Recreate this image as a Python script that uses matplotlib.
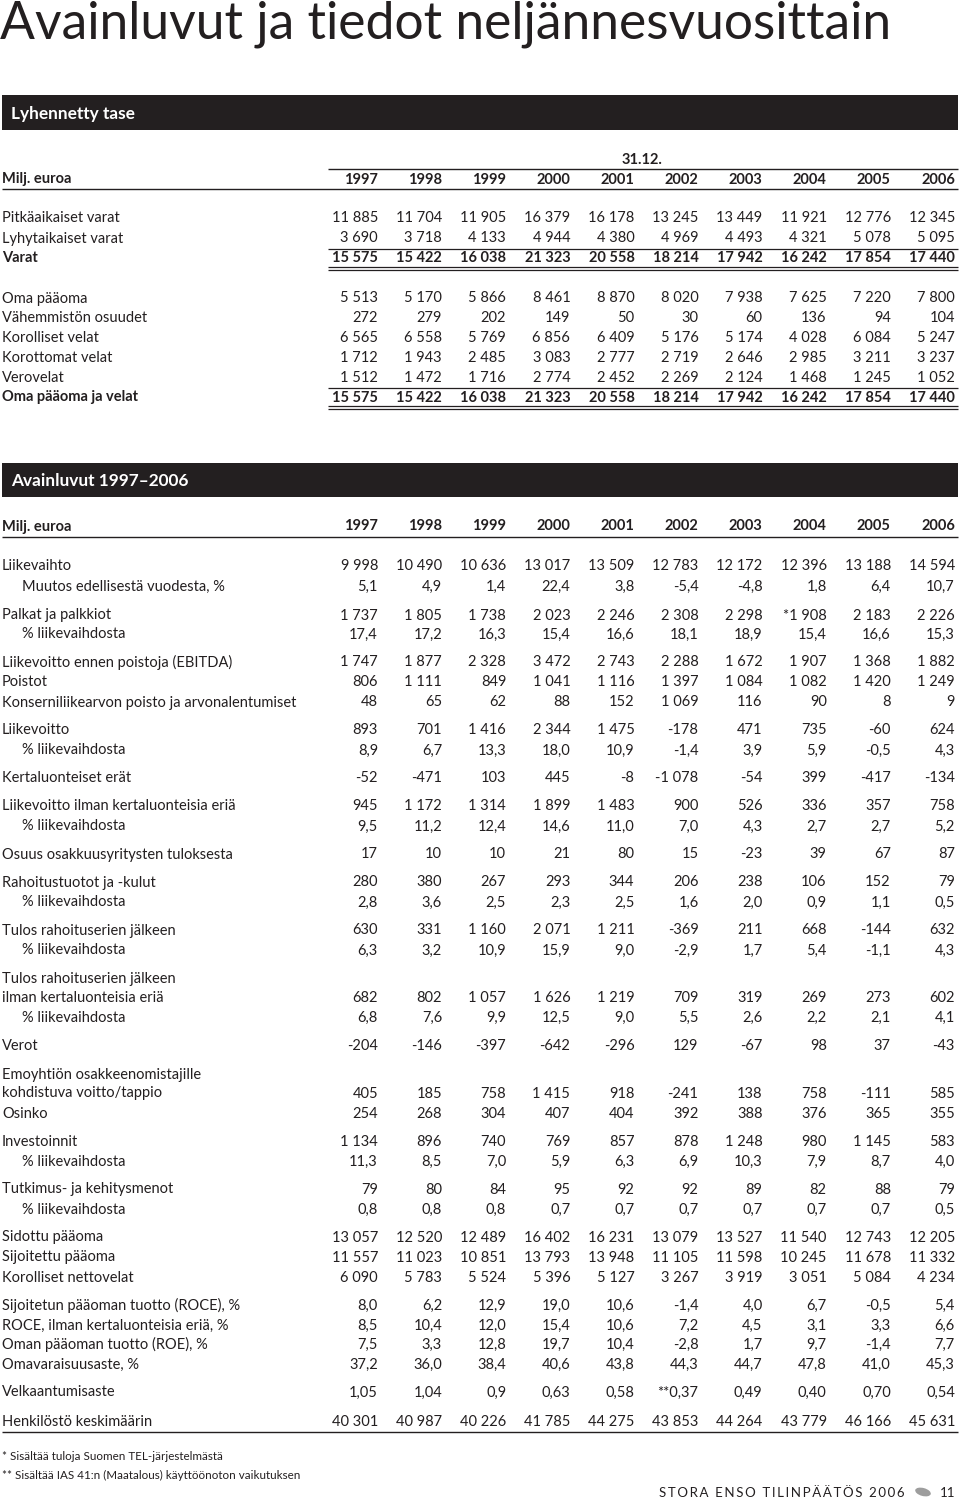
import matplotlib
matplotlib.use("Agg")
import matplotlib.pyplot as plt
from matplotlib.patches import Rectangle, Ellipse

FONT = ["Lato", "DejaVu Sans"]
plt.rcParams['font.family'] = FONT

years = ["1997", "1998", "1999", "2000", "2001", "2002", "2003", "2004", "2005", "2006"]

# ---- Lyhennetty tase ----
tase_labels = ["Pitkäaikaiset varat", "Lyhytaikaiset varat", "Varat",
               "Oma pääoma", "Vähemmistön osuudet", "Korolliset velat",
               "Korottomat velat", "Verovelat", "Oma pääoma ja velat"]
tase_values = [
    ["11 885", "11 704", "11 905", "16 379", "16 178", "13 245", "13 449", "11 921", "12 776", "12 345"],
    ["3 690", "3 718", "4 133", "4 944", "4 380", "4 969", "4 493", "4 321", "5 078", "5 095"],
    ["15 575", "15 422", "16 038", "21 323", "20 558", "18 214", "17 942", "16 242", "17 854", "17 440"],
    ["5 513", "5 170", "5 866", "8 461", "8 870", "8 020", "7 938", "7 625", "7 220", "7 800"],
    ["272", "279", "202", "149", "50", "30", "60", "136", "94", "104"],
    ["6 565", "6 558", "5 769", "6 856", "6 409", "5 176", "5 174", "4 028", "6 084", "5 247"],
    ["1 712", "1 943", "2 485", "3 083", "2 777", "2 719", "2 646", "2 985", "3 211", "3 237"],
    ["1 512", "1 472", "1 716", "2 774", "2 452", "2 269", "2 124", "1 468", "1 245", "1 052"],
    ["15 575", "15 422", "16 038", "21 323", "20 558", "18 214", "17 942", "16 242", "17 854", "17 440"],
]
tase_bold = [False, False, True, False, False, False, False, False, True]
tase_y = [218, 238, 258, 298, 318, 338, 358, 377, 397]

# ---- Avainluvut 1997-2006 ----
key_labels = [
    "Liikevaihto", "Muutos edellisestä vuodesta, %",
    "Palkat ja palkkiot", "% liikevaihdosta",
    "Liikevoitto ennen poistoja (EBITDA)", "Poistot",
    "Konserniliikearvon poisto ja arvonalentumiset",
    "Liikevoitto", "% liikevaihdosta",
    "Kertaluonteiset erät",
    "Liikevoitto ilman kertaluonteisia eriä", "% liikevaihdosta",
    "Osuus osakkuusyritysten tuloksesta",
    "Rahoitustuotot ja -kulut", "% liikevaihdosta",
    "Tulos rahoituserien jälkeen", "% liikevaihdosta",
    "Tulos rahoituserien jälkeen", "ilman kertaluonteisia eriä", "% liikevaihdosta",
    "Verot",
    "Emoyhtiön osakkeenomistajille", "kohdistuva voitto/tappio", "Osinko",
    "Investoinnit", "% liikevaihdosta",
    "Tutkimus- ja kehitysmenot", "% liikevaihdosta",
    "Sidottu pääoma", "Sijoitettu pääoma", "Korolliset nettovelat",
    "Sijoitetun pääoman tuotto (ROCE), %", "ROCE, ilman kertaluonteisia eriä, %",
    "Oman pääoman tuotto (ROE), %", "Omavaraisuusaste, %",
    "Velkaantumisaste",
    "Henkilöstö keskimäärin",
]
key_indent = [False, True, False, True, False, False, False, False, True, False,
              False, True, False, False, True, False, True, False, False, True,
              False, False, False, False, False, True, False, True, False, False,
              False, False, False, False, False, False, False]
key_values = [
    ["9 998", "10 490", "10 636", "13 017", "13 509", "12 783", "12 172", "12 396", "13 188", "14 594"],
    ["5,1", "4,9", "1,4", "22,4", "3,8", "-5,4", "-4,8", "1,8", "6,4", "10,7"],
    ["1 737", "1 805", "1 738", "2 023", "2 246", "2 308", "2 298", "*1 908", "2 183", "2 226"],
    ["17,4", "17,2", "16,3", "15,4", "16,6", "18,1", "18,9", "15,4", "16,6", "15,3"],
    ["1 747", "1 877", "2 328", "3 472", "2 743", "2 288", "1 672", "1 907", "1 368", "1 882"],
    ["806", "1 111", "849", "1 041", "1 116", "1 397", "1 084", "1 082", "1 420", "1 249"],
    ["48", "65", "62", "88", "152", "1 069", "116", "90", "8", "9"],
    ["893", "701", "1 416", "2 344", "1 475", "-178", "471", "735", "-60", "624"],
    ["8,9", "6,7", "13,3", "18,0", "10,9", "-1,4", "3,9", "5,9", "-0,5", "4,3"],
    ["-52", "-471", "103", "445", "-8", "-1 078", "-54", "399", "-417", "-134"],
    ["945", "1 172", "1 314", "1 899", "1 483", "900", "526", "336", "357", "758"],
    ["9,5", "11,2", "12,4", "14,6", "11,0", "7,0", "4,3", "2,7", "2,7", "5,2"],
    ["17", "10", "10", "21", "80", "15", "-23", "39", "67", "87"],
    ["280", "380", "267", "293", "344", "206", "238", "106", "152", "79"],
    ["2,8", "3,6", "2,5", "2,3", "2,5", "1,6", "2,0", "0,9", "1,1", "0,5"],
    ["630", "331", "1 160", "2 071", "1 211", "-369", "211", "668", "-144", "632"],
    ["6,3", "3,2", "10,9", "15,9", "9,0", "-2,9", "1,7", "5,4", "-1,1", "4,3"],
    None,
    ["682", "802", "1 057", "1 626", "1 219", "709", "319", "269", "273", "602"],
    ["6,8", "7,6", "9,9", "12,5", "9,0", "5,5", "2,6", "2,2", "2,1", "4,1"],
    ["-204", "-146", "-397", "-642", "-296", "129", "-67", "98", "37", "-43"],
    None,
    ["405", "185", "758", "1 415", "918", "-241", "138", "758", "-111", "585"],
    ["254", "268", "304", "407", "404", "392", "388", "376", "365", "355"],
    ["1 134", "896", "740", "769", "857", "878", "1 248", "980", "1 145", "583"],
    ["11,3", "8,5", "7,0", "5,9", "6,3", "6,9", "10,3", "7,9", "8,7", "4,0"],
    ["79", "80", "84", "95", "92", "92", "89", "82", "88", "79"],
    ["0,8", "0,8", "0,8", "0,7", "0,7", "0,7", "0,7", "0,7", "0,7", "0,5"],
    ["13 057", "12 520", "12 489", "16 402", "16 231", "13 079", "13 527", "11 540", "12 743", "12 205"],
    ["11 557", "11 023", "10 851", "13 793", "13 948", "11 105", "11 598", "10 245", "11 678", "11 332"],
    ["6 090", "5 783", "5 524", "5 396", "5 127", "3 267", "3 919", "3 051", "5 084", "4 234"],
    ["8,0", "6,2", "12,9", "19,0", "10,6", "-1,4", "4,0", "6,7", "-0,5", "5,4"],
    ["8,5", "10,4", "12,0", "15,4", "10,6", "7,2", "4,5", "3,1", "3,3", "6,6"],
    ["7,5", "3,3", "12,8", "19,7", "10,4", "-2,8", "1,7", "9,7", "-1,4", "7,7"],
    ["37,2", "36,0", "38,4", "40,6", "43,8", "44,3", "44,7", "47,8", "41,0", "45,3"],
    ["1,05", "1,04", "0,9", "0,63", "0,58", "**0,37", "0,49", "0,40", "0,70", "0,54"],
    ["40 301", "40 987", "40 226", "41 785", "44 275", "43 853", "44 264", "43 779", "46 166", "45 631"],
]
key_y = [566, 586, 615, 634, 662, 682, 702, 730, 750, 778, 806, 826, 854, 882, 902,
         930, 950, 978, 997, 1017, 1045, 1074, 1093, 1113, 1141, 1161, 1189, 1209,
         1237, 1257, 1277, 1305, 1325, 1344, 1364, 1392, 1421]

footnotes = ["* Sisältää tuloja Suomen TEL-järjestelmästä",
             "** Sisältää IAS 41:n (Maatalous) käyttöönoton vaikutuksen"]

# ---------------- drawing ----------------
W, H = 960, 1501
fig = plt.figure(figsize=(W / 100, H / 100), dpi=100)
ax = fig.add_axes([0, 0, 1, 1])
ax.set_xlim(0, W)
ax.set_ylim(H, 0)
ax.axis("off")

INK = "#231f20"
FS = 10.5
col_x = [378 + i * 64.1 for i in range(10)]
LEFT = 2
RIGHT = 957
NUM_LEFT = 328

def hline(y, x0, x1, lw=0.9):
    ax.plot([x0, x1], [y, y], color=INK, lw=lw, solid_capstyle="butt")

def dline(y, x0, x1):
    hline(y - 1.2, x0, x1, 0.9)
    hline(y + 1.2, x0, x1, 0.9)

ax.text(0, 24, "Avainluvut ja tiedot neljännesvuosittain", fontsize=37.2, fontweight="normal",
        color=INK, va="center", ha="left")

def bar(y0, y1, title):
    ax.add_patch(Rectangle((LEFT, y0), RIGHT + 1 - LEFT, y1 - y0, color=INK, lw=0))
    ax.text(11, (y0 + y1) / 2 + 1, title, color="white", fontsize=12.4, fontweight="bold",
            va="center", ha="left")

def row(y, label, vals, bold=False, indent=False):
    fw = "bold" if bold else "normal"
    ax.text(22 if indent else 2, y + 0.5, label, fontsize=FS, fontweight=fw, color=INK,
            va="center", ha="left")
    if vals is not None:
        for x, v in zip(col_x, vals):
            ax.text(x, y + 0.5, v, fontsize=FS, fontweight=fw, color=INK, va="center", ha="right")

# Section 1
bar(95, 130, "Lyhennetty tase")
ax.text(642, 160, "31.12.", fontsize=FS, fontweight="bold", color=INK, va="center", ha="center")
hline(168.5, NUM_LEFT, RIGHT + 1, 1.0)
row(179, "Milj. euroa", years, bold=True)
hline(188.5, LEFT, RIGHT + 1, 1.0)
for y, lab, vals, b in zip(tase_y, tase_labels, tase_values, tase_bold):
    row(y, lab, vals, bold=b)
hline(248.5, NUM_LEFT, RIGHT + 1, 0.9)
dline(268.5, NUM_LEFT, RIGHT + 1)
hline(387.5, NUM_LEFT, RIGHT + 1, 0.9)
dline(407.5, NUM_LEFT, RIGHT + 1)

# Section 2
bar(463, 497, "Avainluvut 1997\u20132006")
row(526, "Milj. euroa", years, bold=True)
hline(536.5, LEFT, RIGHT + 1, 1.0)
for y, lab, vals, ind in zip(key_y, key_labels, key_values, key_indent):
    row(y, lab, vals, indent=ind)
hline(1431.5, LEFT, RIGHT + 1, 1.0)

ax.text(2, 1457, footnotes[0], fontsize=8.4, color=INK, va="center", ha="left")
ax.text(2, 1475, footnotes[1], fontsize=8.4, color=INK, va="center", ha="left")

# footer
ax.text(905, 1493, "\u2009".join("STORA ENSO TILINPÄÄTÖS 2006"), fontsize=9.5, color=INK,
        va="center", ha="right")
ax.add_patch(Ellipse((923, 1492), 16, 8, angle=15, color="#9d9d9d", lw=0))
ax.text(955, 1493, "11", fontsize=9.5, color=INK, va="center", ha="right")

fig.savefig("out.png", dpi=100)
